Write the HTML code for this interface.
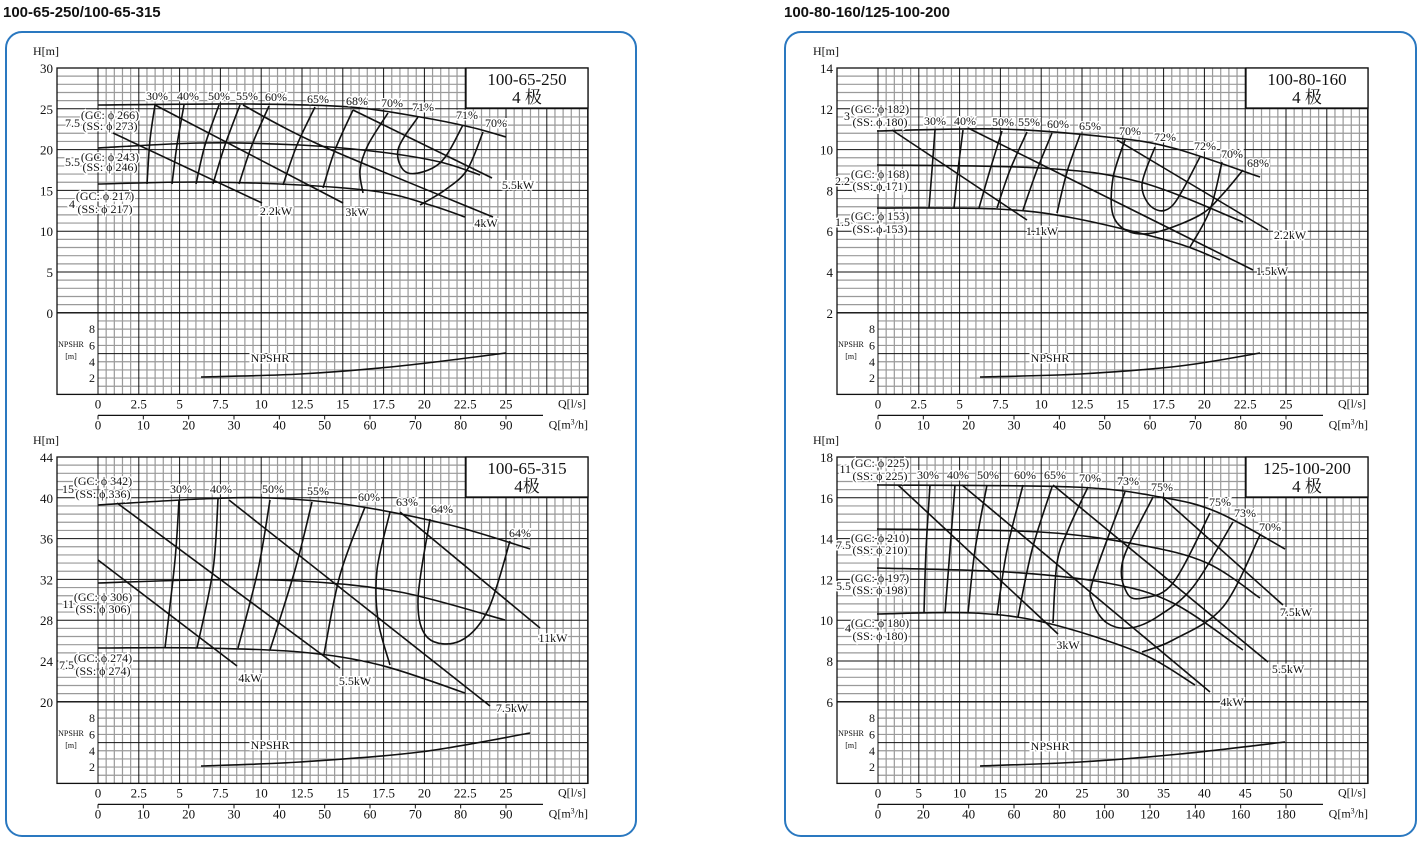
<!DOCTYPE html>
<html><head><meta charset="utf-8"><style>
body{margin:0;background:#fff;}
svg{display:block;}
text{font-family:"Liberation Serif","Noto Serif CJK SC",serif;fill:#111;}
.h{font-family:"Liberation Sans",sans-serif;font-weight:bold;font-size:15px;}
.lb{paint-order:stroke;stroke:#fff;stroke-width:3px;}
</style></head><body>
<svg id="s" width="1422" height="844" xmlns="http://www.w3.org/2000/svg">
<text class="h" x="3" y="17">100-65-250/100-65-315</text>
<text class="h" x="784" y="17">100-80-160/125-100-200</text>
<rect x="6" y="32" width="630" height="804" rx="16" fill="none" stroke="#2a78c0" stroke-width="2"/>
<rect x="785" y="32" width="631" height="804" rx="16" fill="none" stroke="#2a78c0" stroke-width="2"/>
</svg>
<script>
var S=document.getElementById('s'),NS='http://www.w3.org/2000/svg';
function el(t,a,txt){var e=document.createElementNS(NS,t);for(var k in a)e.setAttribute(k,a[k]);if(txt!=null)e.textContent=txt;S.appendChild(e);return e;}
function line(x1,y1,x2,y2,c,w){el('line',{x1:x1,y1:y1,x2:x2,y2:y2,stroke:c,'stroke-width':w});}
function tx(x,y,t,sz,anc,cls){return el('text',{x:x,y:y,'font-size':sz||12,'text-anchor':anc||'start','class':cls||''},t);}
function pl(pts,w){var d='M'+pts[0][0]+','+pts[0][1];
 if(pts.length==2){d+='L'+pts[1][0]+','+pts[1][1];}
 else{for(var i=0;i<pts.length-1;i++){var p0=pts[i-1]||pts[i],p1=pts[i],p2=pts[i+1],p3=pts[i+2]||p2;
  d+='C'+(p1[0]+(p2[0]-p0[0])/6)+','+(p1[1]+(p2[1]-p0[1])/6)+' '+(p2[0]-(p3[0]-p1[0])/6)+','+(p2[1]-(p3[1]-p1[1])/6)+' '+p2[0]+','+p2[1];}}
 el('path',{d:d,fill:'none',stroke:'#111','stroke-width':w||1.6});}
var s=8.16;
function grid(dx,dy,yl,xl,ml,mf,title){
 var X0=57+dx,Qx=98+dx,Y0=68+dy,X1=588+dx,Y1=Y0+40*s;
 for(var i=0;i<=40;i++){if(i%5==0)continue;var y=Y0+i*s;line(i<=30?X0:Qx,y,X1,y,'#9a9a9a',1.2);}
 for(var j=0;j<=60;j++){if(j%5==0)continue;var x=Qx+j*s;line(x,Y0,x,Y1,'#9a9a9a',1.2);}
 for(var i=0;i<=40;i+=5){var y=Y0+i*s;line(i<=30?X0:Qx,y,X1,y,'#111',1);}
 for(var j=0;j<=60;j+=5){var x=Qx+j*s;line(x,Y0,x,Y1,'#111',1);}
 line(X0,Y0+30*s,X1,Y0+30*s,'#111',1.3);
 el('rect',{x:X0,y:Y0,width:X1-X0,height:Y1-Y0,fill:'none',stroke:'#111','stroke-width':1.3});
 tx(X0-24,Y0-13,'H[m]',12);
 for(var k=0;k<yl.length;k++)tx(X0-4,Y0+k*5*s+5,yl[k],13,'end');
 for(var k=1;k<=4;k++)tx(Qx-3,Y1-2*k*s+4,''+(2*k),12,'end');
 tx(X0+14,Y0+279,'NPSHR',8,'middle');tx(X0+14,Y0+291,'[m]',8,'middle');
 for(var k=0;k<xl.length;k++)tx(Qx+k*5*s,Y1+14,xl[k],13,'middle');
 tx(X1-2,Y1+13,'Q[l/s]',12,'end');
 line(Qx,Y1+21,X1-45,Y1+21,'#111',1.3);
 for(var k=0;k<ml.length;k++){var x=Qx+ml[k]*mf;line(x,Y1+21,x,Y1+25,'#111',1);tx(x,Y1+35,''+ml[k],13,'middle');}
 el('text',{x:X1,y:Y1+34,'font-size':12,'text-anchor':'end'}).innerHTML='Q[m<tspan font-size="8" dy="-4">3</tspan><tspan dy="4">/h]</tspan>';
 el('rect',{x:X1-122,y:Y0,width:122,height:40,fill:'#fff',stroke:'#111','stroke-width':1.3});
 tx(X1-61,Y0+17,title[0],17,'middle');tx(X1-61,Y0+35,title[1],17,'middle');
}
function L(a){for(var i=0;i<a.length;i++)tx(a[i][0],a[i][1],a[i][2],a[i][3]||12,a[i][4]||'middle','lb');}
function C(a,w){for(var i=0;i<a.length;i++)pl(a[i],w);}
var q1=['0','2.5','5','7.5','10','12.5','15','17.5','20','22.5','25'],m1=[0,10,20,30,40,50,60,70,80,90];
grid(0,0,['30','25','20','15','10','5','0'],q1,m1,16.32/3.6,['100-65-250','4 极']);
grid(0,389,['44','40','36','32','28','24','20'],q1,m1,16.32/3.6,['100-65-315','4极']);
grid(780,0,['14','12','10','8','6','4','2'],q1,m1,16.32/3.6,['100-80-160','4 极']);
grid(780,389,['18','16','14','12','10','8','6'],['0','5','10','15','20','25','30','35','40','45','50'],[0,20,40,60,80,100,120,140,160,180],8.16/3.6,['125-100-200','4 极']);
// TL
C([[[98,105],[250,104],[350,107],[420,117],[470,127],[506,137]],[[98,148],[200,143],[300,145],[380,152],[440,162],[480,175]],[[98,184],[200,182],[300,185],[380,192],[430,205],[465,217]],
[[113,133],[262,203]],[[155,105],[343,203]],[[243,105],[320,145],[493,217]],[[353,110],[492,178]],
[[155,105],[150,140],[147,184]],[[184,105],[177,145],[172,184]],[[219,105],[205,145],[196,184]],[[240,105],[225,145],[213,184]],[[269,106],[252,145],[239,184]],[[315,107],[297,145],[283,185]],[[353,110],[335,150],[323,188]],[[388,113],[368,145],[360,170],[363,193]],
[[418,117],[398,150],[408,173],[440,163],[463,125]],[[483,132],[467,170],[445,190],[420,205]],
[[201,377],[300,374],[400,366],[506,353]]]);
L([[157,100,'30%'],[188,100,'40%'],[219,100,'50%'],[247,100,'55%'],[276,101,'60%'],[318,103,'65%'],[357,105,'68%'],[392,107,'70%'],[423,111,'71%'],[467,119,'71%'],[496,127,'70%'],
[276,215,'2.2kW'],[357,216,'3kW'],[486,227,'4kW'],[518,189,'5.5kW'],[270,362,'NPSHR'],
[110,119,'(GC: ϕ 266)'],[110,130,'(SS: ϕ 273)'],[110,161,'(GC: ϕ 243)'],[110,171,'(SS: ϕ 246)'],[105,200,'(GC: ϕ 217)'],[105,213,'(SS: ϕ 217)'],
[80,127,'7.5',12,'end'],[80,166,'5.5',12,'end'],[75,208,'4',12,'end']]);
// BL
C([[[98,505],[200,499],[270,498],[350,505],[450,525],[530,549]],[[98,583],[200,580],[300,581],[400,592],[505,620]],[[98,648],[200,648],[300,652],[380,665],[465,693]],
[[98,560],[237,666]],[[117,503],[340,668]],[[229,500],[490,706]],[[400,512],[540,628]],
[[179,500],[175,560],[165,648]],[[218,499],[213,570],[197,648]],[[270,500],[258,570],[238,648]],[[312,502],[295,570],[270,650]],[[365,507],[340,575],[324,654]],[[390,512],[377,570],[378,620],[390,665]],
[[430,519],[418,600],[428,638],[460,641],[488,610],[510,541]],
[[201,766],[300,762],[420,752],[530,733]]]);
L([[181,493,'30%'],[221,493,'40%'],[273,493,'50%'],[318,495,'55%'],[369,501,'60%'],[407,506,'63%'],[442,513,'64%'],[520,537,'64%'],
[250,682,'4kW'],[355,685,'5.5kW'],[512,712,'7.5kW'],[553,642,'11kW'],[270,749,'NPSHR'],
[103,485,'(GC: ϕ 342)'],[103,498,'(SS: ϕ 336)'],[103,601,'(GC: ϕ 306)'],[103,613,'(SS: ϕ 306)'],[103,662,'(GC: ϕ 274)'],[103,675,'(SS: ϕ 274)'],
[74,493,'15',12,'end'],[74,608,'11',12,'end'],[74,669,'7.5',12,'end']]);
// TR
C([[[877,131],[1000,129],[1107,137],[1173,148],[1260,177]],[[877,165],[1040,168],[1140,182],[1243,222]],[[877,208],[997,209],[1073,218],[1173,242],[1220,260]],
[[892,130],[1027,220]],[[968,128],[1253,270]],[[1117,140],[1268,230]],
[[935,130],[932,170],[929,208]],[[963,130],[958,170],[954,208]],[[1002,131],[990,170],[979,208]],[[1027,132],[1010,170],[997,208]],[[1052,133],[1037,170],[1023,210]],[[1080,135],[1067,172],[1057,213]],
[[1125,140],[1113,178],[1113,215],[1130,232],[1157,232],[1200,215],[1222,195],[1243,170]],
[[1155,147],[1142,185],[1153,208],[1173,205],[1200,157]],[[1222,162],[1210,210],[1190,247]],
[[980,377],[1080,374],[1180,366],[1260,353]]]);
L([[935,125,'30%'],[965,125,'40%'],[1003,126,'50%'],[1029,126,'55%'],[1058,128,'60%'],[1090,130,'65%'],[1130,135,'70%'],[1165,141,'72%'],[1205,150,'72%'],[1232,158,'70%'],[1258,167,'68%'],
[1042,235,'1.1kW'],[1272,275,'1.5kW'],[1290,239,'2.2kW'],[1050,362,'NPSHR'],
[880,113,'(GC: ϕ 182)'],[880,126,'(SS: ϕ 180)'],[880,178,'(GC: ϕ 168)'],[880,190,'(SS: ϕ 171)'],[880,220,'(GC: ϕ 153)'],[880,233,'(SS: ϕ 153)'],
[850,120,'3',12,'end'],[850,185,'2.2',12,'end'],[850,226,'1.5',12,'end']]);
// BR
C([[[877,485],[1073,487],[1160,497],[1217,512],[1285,549]],[[877,529],[1040,532],[1140,545],[1207,563],[1260,598]],[[877,568],[1007,572],[1107,583],[1173,603],[1243,650]],[[877,614],[973,613],[1047,623],[1140,653],[1195,685]],
[[898,485],[1058,634]],[[962,485],[1210,692]],[[1053,485],[1268,662]],[[1162,497],[1283,605]],
[[930,485],[926,550],[924,613]],[[955,485],[950,550],[945,613]],[[987,485],[975,550],[968,613]],[[1023,485],[1007,550],[997,615]],[[1052,487],[1032,550],[1018,617]],
[[1088,487],[1068,530],[1057,563],[1053,623]],
[[1125,492],[1093,580],[1093,603],[1107,623],[1130,628],[1157,617],[1193,587],[1233,522]],
[[1153,497],[1123,560],[1127,593],[1143,598],[1173,583],[1210,513]],
[[1260,535],[1223,607],[1173,640],[1142,652]],
[[980,766],[1080,762],[1180,754],[1285,742]]]);
L([[928,479,'30%'],[958,479,'40%'],[988,479,'50%'],[1025,479,'60%'],[1055,479,'65%'],[1090,482,'70%'],[1128,485,'73%'],[1162,491,'75%'],[1220,506,'75%'],[1245,517,'73%'],[1270,531,'70%'],
[1068,649,'3kW'],[1232,706,'4kW'],[1288,673,'5.5kW'],[1296,616,'7.5kW'],[1050,750,'NPSHR'],
[880,467,'(GC: ϕ 225)'],[880,480,'(SS: ϕ 225)'],[880,542,'(GC: ϕ 210)'],[880,554,'(SS: ϕ 210)'],[880,582,'(GC: ϕ 197)'],[880,594,'(SS: ϕ 198)'],[880,627,'(GC: ϕ 180)'],[880,640,'(SS: ϕ 180)'],
[851,473,'11',12,'end'],[851,549,'7.5',12,'end'],[851,590,'5.5',12,'end'],[851,632,'4',12,'end']]);
</script>
</body></html>
